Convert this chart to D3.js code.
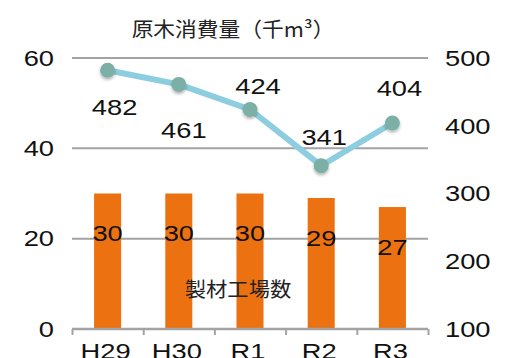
<!DOCTYPE html>
<html><head><meta charset="utf-8">
<script src="https://cdn.jsdelivr.net/npm/d3@7"></script>
<style>
html,body{margin:0;padding:0;background:#fff;}
svg{display:block;}
</style></head>
<body>
<script>
// ---- data ----
const categories = ["H29", "H30", "R1", "R2", "R3"];
const sawmills = [30, 30, 30, 29, 27];          // 製材工場数 (left axis)
const logConsumption = [482, 461, 424, 341, 404]; // 原木消費量（千m³） (right axis)
const leftTicks = [0, 20, 40, 60];
const rightTicks = [100, 200, 300, 400, 500];
const titleLine = "原木消費量（千m³）";
const titleBar = "製材工場数";

// ---- layout ----
const W = 510, H = 358;
const x0 = 72, x1 = 428, yTop = 58, yBot = 329;
const numFont = "'Liberation Sans', Arial, sans-serif";
const cjkFont = "'Noto Sans CJK JP', sans-serif";
const numSize = 21.5, stretch = 1.27;

const svg = d3.select("body").append("svg").attr("width", W).attr("height", H);

const defs = svg.append("defs");
const f = defs.append("filter").attr("id","sh").attr("x","-50%").attr("y","-50%").attr("width","200%").attr("height","200%");
f.append("feDropShadow").attr("dx",0).attr("dy",2).attr("stdDeviation",1.5).attr("flood-color","#000").attr("flood-opacity",0.3);

const x = d3.scaleBand().domain(categories).range([x0, x1]).paddingInner(0.62).paddingOuter(0.31);
const yL = d3.scaleLinear().domain([0, 60]).range([yBot, yTop]);
const yR = d3.scaleLinear().domain([100, 500]).range([yBot, yTop]);
const cx = d => x(d) + x.bandwidth() / 2;

// stretched number text helper
function numText(g, data, fx, fy, ftxt, anchor) {
  return g.selectAll("text").data(data).join("text")
    .attr("transform", (d, i) => `translate(${fx(d, i)},${fy(d, i)}) scale(${stretch},1)`)
    .attr("dy", "0.36em").attr("text-anchor", anchor || "middle")
    .attr("font-family", numFont).attr("font-size", numSize).attr("fill", "#111")
    .text(ftxt);
}

// gridlines
svg.append("g").selectAll("line").data(leftTicks.filter(t => t > 0)).join("line")
  .attr("x1", x0).attr("x2", x1).attr("y1", d => yL(d)).attr("y2", d => yL(d))
  .attr("stroke", "#a3a3a3").attr("stroke-width", 2);

// bars
svg.append("g").selectAll("rect").data(categories).join("rect")
  .attr("x", d => x(d)).attr("width", x.bandwidth())
  .attr("y", (d, i) => yL(sawmills[i])).attr("height", (d, i) => yBot - yL(sawmills[i]))
  .attr("fill", "#ec7211");

// bottom axis
const xAxis = d3.axisBottom(d3.scalePoint().domain(d3.range(6)).range([x0, x1]))
  .tickSize(6).tickFormat("");
const gx = svg.append("g").attr("transform", `translate(0,${yBot})`).call(xAxis);
gx.select(".domain").attr("stroke", "#a3a3a3").attr("stroke-width", 2.5).attr("d", `M${x0},0H${x1}`);
gx.selectAll(".tick line").attr("stroke", "#a3a3a3").attr("stroke-width", 2);

// category labels
numText(svg.append("g"), categories, d => cx(d) - 2, () => 351, d => d);

// left axis labels
numText(svg.append("g"), leftTicks, () => 54, d => yL(d), d => d, "end");
// right axis labels
numText(svg.append("g"), rightTicks, () => 445, d => yR(d), d => d, "start");

// bar labels
numText(svg.append("g"), categories, d => cx(d), (d, i) => yL(sawmills[i]) + 40, (d, i) => sawmills[i]);

// line
const line = d3.line().x((d, i) => cx(categories[i])).y(d => yR(d));
svg.append("path").datum(logConsumption).attr("d", line)
  .attr("fill", "none").attr("stroke", "#8ccde0").attr("stroke-width", 6).attr("stroke-linejoin", "round");
svg.append("g").selectAll("circle").data(logConsumption).join("circle")
  .attr("cx", (d, i) => cx(categories[i])).attr("cy", d => yR(d)).attr("r", 7.5)
  .attr("fill", "#7bb0a6").attr("filter", "url(#sh)");

// line labels (placement below/above each point)
const lblDy = [37, 46, -23, -28, -35];
const lblDx = [7, 5, 8, 3, 7];
numText(svg.append("g"), logConsumption, (d, i) => cx(categories[i]) + lblDx[i], (d, i) => yR(d) + lblDy[i], d => d);

// titles
svg.append("text").attr("transform", "translate(233,30) scale(1.06,1)").attr("dy", "0.36em").attr("text-anchor", "middle")
  .attr("font-family", cjkFont).attr("font-size", 20.5).attr("fill", "#222").text(titleLine);
svg.append("text").attr("transform", "translate(238,290) scale(1.04,1)").attr("dy", "0.36em").attr("text-anchor", "middle")
  .attr("font-family", cjkFont).attr("font-size", 20.5).attr("fill", "#222").text(titleBar);
</script>
</body></html>
